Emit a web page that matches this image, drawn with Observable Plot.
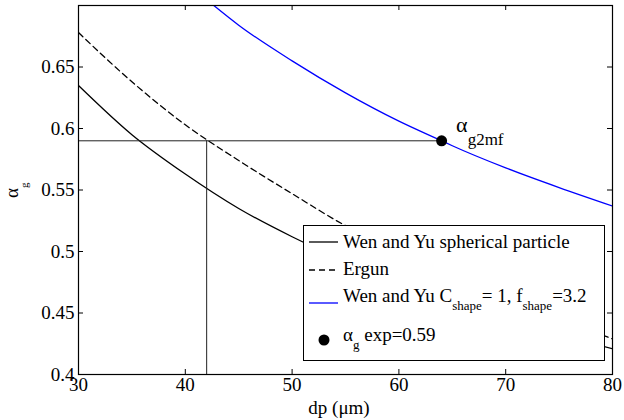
<!DOCTYPE html>
<html><head><meta charset="utf-8">
<script src="https://cdn.jsdelivr.net/npm/d3@7"></script>
<script src="https://cdn.jsdelivr.net/npm/@observablehq/plot@0.6"></script>
<style>body{margin:0;background:#fff} svg text, svg tspan{font-family:"Liberation Serif","Times New Roman",Times,serif !important;}</style>
</head><body><div id="chart"></div>
<script>
// Data
const dpSolid    = [30, 35, 40, 45, 50, 55, 60, 65, 70, 75, 80];
const alphaSolid = [0.635, 0.595, 0.563, 0.535, 0.512, 0.492, 0.474, 0.459, 0.445, 0.432, 0.421];
const dpErgun    = [30, 35, 40, 45, 50, 55, 60, 65, 70, 75, 80];
const alphaErgun = [0.678, 0.638, 0.603, 0.574, 0.547, 0.521, 0.500, 0.480, 0.462, 0.445, 0.429];
const dpShape    = [42.67, 45, 50, 55, 60, 64, 65, 70, 75, 80];
const alphaShape = [0.700, 0.684, 0.655, 0.629, 0.606, 0.590, 0.586, 0.568, 0.552, 0.537];
const expAlpha   = [0.59];
const dpErgunAtExp = [42];
const dpShapeAtExp = [64];
const xTicks = [30, 40, 50, 60, 70, 80];
const yTicks = [0.4, 0.45, 0.5, 0.55, 0.6, 0.65];
const xInner = [40, 50, 60, 70];
const yInner = [0.45, 0.5, 0.55, 0.6, 0.65];
const legendLabels = ["Wen and Yu spherical particle", "Ergun", "Wen and Yu C_shape= 1, f_shape=3.2", "α_g exp=0.59"];

const solid = dpSolid.map((d, i) => ({dp: d, a: alphaSolid[i]}));
const ergun = dpErgun.map((d, i) => ({dp: d, a: alphaErgun[i]}));
const shape = dpShape.map((d, i) => ({dp: d, a: alphaShape[i]}));

const W = 624, H = 420, mL = 78, mR = 12, mT = 5, mB = 46;
const plotH = H - mT - mB, plotW = W - mL - mR;
const FONT = "Liberation Serif";

const chart = Plot.plot({
  width: W, height: H,
  marginLeft: mL, marginRight: mR, marginTop: mT, marginBottom: mB,
  style: {fontFamily: FONT, fontSize: "19px", background: "white", color: "black", overflow: "visible"},
  x: {domain: [30, 80], ticks: xTicks, tickSize: 0, tickPadding: 3, label: null, tickFormat: d => String(d)},
  y: {domain: [0.4, 0.7], ticks: yTicks, tickSize: 0, tickPadding: 4, label: null, tickFormat: d => String(d)},
  marks: [
    Plot.line(solid, {x: "dp", y: "a", stroke: "black", strokeWidth: 1.3, curve: "monotone-x", clip: true}),
    Plot.line(ergun, {x: "dp", y: "a", stroke: "black", strokeWidth: 1.3, strokeDasharray: "6,4", curve: "monotone-x", clip: true}),
    Plot.line(shape, {x: "dp", y: "a", stroke: "#0000ff", strokeWidth: 1.3, curve: "monotone-x", clip: true}),
    Plot.ruleY(expAlpha, {y: d => d, x1: 30, x2: dpShapeAtExp[0], stroke: "#222", strokeWidth: 1}),
    Plot.ruleX(dpErgunAtExp, {x: d => d, y1: 0.4, y2: expAlpha[0], stroke: "#222", strokeWidth: 1}),
    Plot.dot(dpShapeAtExp, {x: d => d, y: expAlpha[0], r: 5.5, fill: "black"}),
    Plot.tickX(xInner, {x: d => d, insetTop: plotH - 5, stroke: "black"}),
    Plot.tickX(xInner, {x: d => d, insetBottom: plotH - 5, stroke: "black"}),
    Plot.tickY(yInner, {y: d => d, insetRight: plotW - 5, stroke: "black"}),
    Plot.tickY(yInner, {y: d => d, insetLeft: plotW - 5, stroke: "black"}),
    Plot.frame({stroke: "black", strokeWidth: 1.2})
  ]
});
document.getElementById("chart").appendChild(chart);

const svg = d3.select(chart);
const xs = chart.scale("x"), ys = chart.scale("y");

// annotation next to the point
const px = xs.apply(dpShapeAtExp[0]), py = ys.apply(expAlpha[0]);
const ann = svg.append("text").attr("x", px + 15).attr("y", py - 8).attr("text-anchor", "start")
  .attr("font-family", FONT).attr("font-size", 22).attr("fill", "black");
ann.append("tspan").text("α");
ann.append("tspan").attr("dy", 13).attr("font-size", 17).text("g2mf");

// y label
const yl = svg.append("text").attr("transform", `translate(18,198) rotate(-90)`).attr("text-anchor", "start")
  .attr("font-family", FONT).attr("font-size", 19).attr("fill", "black");
yl.append("tspan").text("α");
yl.append("tspan").attr("dy", 10).attr("font-size", 11).text("g");

// x label
svg.append("text").attr("x", 339).attr("y", 414).attr("text-anchor", "middle")
  .attr("font-family", FONT).attr("font-size", 19).attr("fill", "black").text("dp (μm)");

// legend
const lg = svg.append("g").attr("font-family", FONT).attr("font-size", 19).attr("fill", "black").attr("text-anchor", "start");
lg.append("rect").attr("x", 303.5).attr("y", 225.5).attr("width", 301).attr("height", 135)
  .attr("fill", "white").attr("stroke", "black").attr("stroke-width", 1);
const rowY = [242, 270, 303, 340];
const baseY = [248, 275, 302, 341];
lg.append("line").attr("x1", 309).attr("x2", 338).attr("y1", rowY[0]).attr("y2", rowY[0]).attr("stroke", "black").attr("stroke-width", 1.3);
lg.append("line").attr("x1", 309).attr("x2", 338).attr("y1", rowY[1]).attr("y2", rowY[1]).attr("stroke", "black").attr("stroke-width", 1.3).attr("stroke-dasharray", "6,4");
lg.append("line").attr("x1", 309).attr("x2", 338).attr("y1", rowY[2]).attr("y2", rowY[2]).attr("stroke", "#0000ff").attr("stroke-width", 1.3);
lg.append("circle").attr("cx", 324).attr("cy", rowY[3]).attr("r", 5.5).attr("fill", "black");

function richText(label, y) {
  const t = lg.append("text").attr("x", 343).attr("y", y).attr("text-anchor", "start");
  const parts = label.split(/(_[a-z]+)/);
  let sub = false;
  parts.forEach(p => {
    if (!p) return;
    if (p.startsWith("_")) {
      t.append("tspan").attr("dy", 8).attr("font-size", 13).text(p.slice(1));
      sub = true;
    } else {
      const s = t.append("tspan").text(p);
      if (sub) { s.attr("dy", -8); sub = false; }
    }
  });
}
legendLabels.forEach((l, i) => richText(l, baseY[i]));
</script>
</body></html>
